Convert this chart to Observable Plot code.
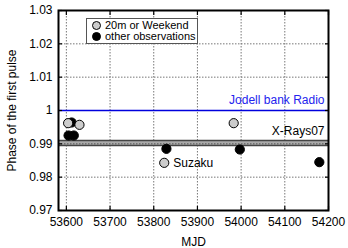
<!DOCTYPE html>
<html>
<head>
<meta charset="utf-8">
<script src="https://cdn.jsdelivr.net/npm/d3@7"></script>
<script src="https://cdn.jsdelivr.net/npm/@observablehq/plot@0.6"></script>
<style>
  html, body { margin: 0; padding: 0; background: #fff; }
  #wrap { position: relative; width: 348px; height: 248px; font-family: "Liberation Sans", Arial, sans-serif; }
  #legend { position: absolute; left: 86px; top: 18px; width: 110px; height: 23px; border: 1px solid #555; background: #fff; font-size: 11px; line-height: 11px; padding-top: 1px; }
  #legend .row { display: flex; align-items: center; height: 11px; white-space: nowrap; }
  #legend .sw { flex: 0 0 auto; display: inline-block; width: 9px; height: 9px; border-radius: 50%; border: 1px solid #000; box-sizing: border-box; margin-left: 5px; margin-right: 4px; }
</style>
</head>
<body>
<div id="wrap"></div>
<script>
// Data
const grayMJD   = [53604, 53630, 53983, 53824];
const grayPhase = [0.9962, 0.9957, 0.9962, 0.9843];
const blackMJD   = [53612, 53605, 53617, 53829, 53997, 54179];
const blackPhase = [0.9964, 0.9925, 0.9925, 0.9885, 0.9883, 0.9845];
const radioPhase = 1.0;
const xrayLow = 0.9895;
const xrayHigh = 0.991;
const xTicks = [53600, 53700, 53800, 53900, 54000, 54100, 54200];
const yTicks = [0.97, 0.98, 0.99, 1.0, 1.01, 1.02, 1.03];
const legendLabels = ["20m or Weekend", "other observations"];
const seriesColors = ["#cccccc", "#000000"];

const gray = grayMJD.map((x, i) => ({x, y: grayPhase[i]}));
const black = blackMJD.map((x, i) => ({x, y: blackPhase[i]}));
const suzaku = [gray[3]];
const fnt = "Liberation Sans, Arial, sans-serif";
const noText = () => "";

const chart = Plot.plot({
  width: 348, height: 248,
  marginLeft: 58, marginRight: 20, marginTop: 10, marginBottom: 38,
  style: {fontFamily: fnt, fontSize: "12px", color: "#000", background: "#fff"},
  x: {domain: [53582, 54200]},
  y: {domain: [0.97, 1.03]},
  marks: [
    Plot.gridX(xTicks, {stroke: "#777", strokeOpacity: 1, strokeDasharray: "1.5,1.5"}),
    Plot.gridY(yTicks, {stroke: "#777", strokeOpacity: 1, strokeDasharray: "1.5,1.5"}),
    Plot.rectY([0], {y1: xrayLow, y2: xrayHigh, fill: "#aaaaaa"}),
    Plot.gridY([0.99], {stroke: "#555", strokeOpacity: 1, strokeDasharray: "1.5,1.5"}),
    Plot.ruleY([xrayLow, xrayHigh], {stroke: "#444", strokeWidth: 1.5}),
    Plot.ruleY([radioPhase], {stroke: "#0000dd", strokeWidth: 1.5}),
    Plot.text(["Jodell bank Radio"], {frameAnchor: "right", y: radioPhase, dx: -4, dy: -10, fill: "#2323ee", fontSize: 12, textAnchor: "end"}),
    Plot.text(["X-Rays07"], {frameAnchor: "right", y: xrayHigh, dx: -4, dy: -9, fill: "#000", fontSize: 12, textAnchor: "end"}),
    Plot.axisX(xTicks, {tickSize: 0, tickPadding: 7, label: "MJD", labelAnchor: "center", labelOffset: 35, labelArrow: "none", fontSize: 12, tickFormat: d => String(d)}),
    Plot.axisY(yTicks, {tickSize: 0, tickPadding: 6, label: "Phase of the first pulse", labelAnchor: "center", labelOffset: 51, labelArrow: "none", fontSize: 12, tickFormat: d => String(+d.toFixed(2))}),
    Plot.axisX(xTicks, {anchor: "bottom", tickSize: -4, tickFormat: noText, label: null, strokeWidth: 1.2}),
    Plot.axisX(xTicks, {anchor: "top", tickSize: -4, tickFormat: noText, label: null, strokeWidth: 1.2}),
    Plot.axisY(yTicks, {anchor: "left", tickSize: -4, tickFormat: noText, label: null, strokeWidth: 1.2}),
    Plot.axisY(yTicks, {anchor: "right", tickSize: -4, tickFormat: noText, label: null, strokeWidth: 1.2}),
    Plot.dot(black, {x: "x", y: "y", r: 4.6, fill: seriesColors[1], stroke: "#000", strokeWidth: 1}),
    Plot.dot(gray, {x: "x", y: "y", r: 4.6, fill: seriesColors[0], stroke: "#000", strokeWidth: 1}),
    Plot.text(suzaku, {x: "x", y: "y", text: () => "Suzaku", textAnchor: "start", dx: 9, fontSize: 12, fill: "#000"}),
    Plot.frame({stroke: "#000", strokeWidth: 2})
  ]
});

const wrap = document.getElementById("wrap");
wrap.appendChild(chart);
const legend = document.createElement("div");
legend.id = "legend";
legendLabels.forEach((lab, i) => {
  const row = document.createElement("div");
  row.className = "row";
  const sw = document.createElement("span");
  sw.className = "sw";
  sw.style.background = seriesColors[i];
  const t = document.createElement("span");
  t.textContent = lab;
  row.appendChild(sw); row.appendChild(t);
  legend.appendChild(row);
});
wrap.appendChild(legend);
</script>
</body>
</html>
